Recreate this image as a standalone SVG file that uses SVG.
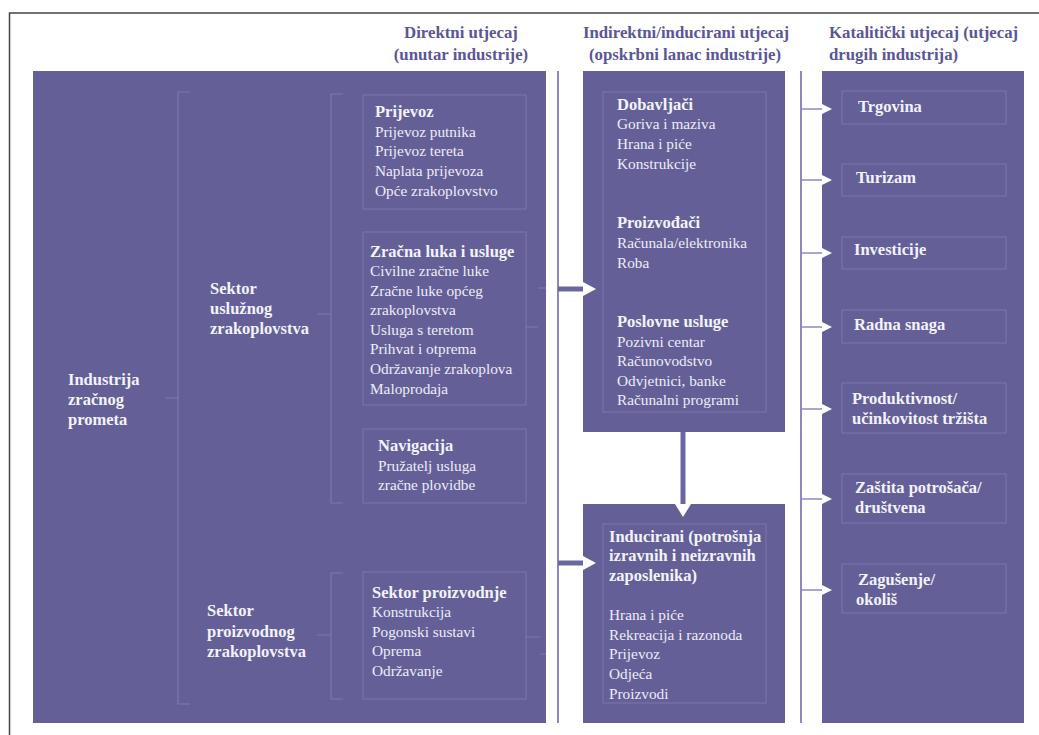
<svg xmlns="http://www.w3.org/2000/svg" width="1039" height="735" viewBox="0 0 1039 735">
<defs>
<style>
.panel{fill:#646097;}
.ibox{fill:none;stroke:#7b77ab;stroke-width:1;}
.br{fill:none;stroke:#7c78ad;stroke-width:1.2;}
.vl{fill:none;stroke:#8c88c2;stroke-width:2;}
.thick{fill:none;stroke:#6a66a2;stroke-width:5;}
.thin{fill:none;stroke:#8c88c2;stroke-width:1.5;}
.head{fill:#ffffff;}
text{font-family:'Liberation Serif','DejaVu Serif',serif;}
.t{font-size:15.3px;fill:#eeecf7;}
.b{font-size:16.5px;font-weight:bold;fill:#f3f2fa;}
.h{font-size:16.8px;font-weight:bold;fill:#5b5694;}
</style>
</defs>
<rect x="0" y="0" width="1039" height="735" fill="#ffffff"/>
<path d="M9.5,735 V13 H1039" fill="none" stroke="#444" stroke-width="1.5"/>

<g id="headers">
<text class="h" x="461" y="38" text-anchor="middle">Direktni utjecaj</text>
<text class="h" x="461" y="60" text-anchor="middle">(unutar industrije)</text>
<text class="h" x="686" y="38" text-anchor="middle">Indirektni/inducirani utjecaj</text>
<text class="h" x="685" y="60" text-anchor="middle">(opskrbni lanac industrije)</text>
<text class="h" x="829" y="38">Katalitički utjecaj (utjecaj</text>
<text class="h" x="829" y="60">drugih industrija)</text>
</g>

<g id="panels">
<rect class="panel" x="33" y="71" width="513" height="652"/>
<rect class="panel" x="583" y="71" width="202" height="361"/>
<rect class="panel" x="583" y="504" width="202" height="219"/>
<rect class="panel" x="822" y="71" width="202" height="652"/>
</g>

<g id="connectors">
<line class="vl" x1="558" y1="71" x2="558" y2="723"/>
<line class="vl" x1="801" y1="71" x2="801" y2="723"/>
<path class="br" d="M190,92 H178 V704 H190 M165,398 H178"/>
<path class="br" d="M343,94 H331 V503 H343 M317,314 H331"/>
<path class="br" d="M343,573 H331 V699 H343 M317,635 H331"/>
<path class="br" d="M538,288 H546 M525,327 H538 M526,637 H540 M540,654 H546"/>
<line class="thick" x1="558" y1="289" x2="584" y2="289"/>
<polygon class="head" points="583,282 596,289 583,296"/>
<line class="thick" x1="558" y1="563" x2="584" y2="563"/>
<polygon class="head" points="583,556 596,563 583,570"/>
<line class="thick" x1="683" y1="432" x2="683" y2="506" stroke="#7e7ab6"/>
<polygon class="head" points="675,504 691,504 683,517"/>
<line class="thin" x1="801" y1="109" x2="823" y2="109"/>
<polygon class="head" points="822,104 832,109 822,114"/>
<line class="thin" x1="801" y1="180" x2="823" y2="180"/>
<polygon class="head" points="822,175 832,180 822,185"/>
<line class="thin" x1="801" y1="253" x2="823" y2="253"/>
<polygon class="head" points="822,248 832,253 822,258"/>
<line class="thin" x1="801" y1="327" x2="823" y2="327"/>
<polygon class="head" points="822,322 832,327 822,332"/>
<line class="thin" x1="801" y1="409" x2="823" y2="409"/>
<polygon class="head" points="822,404 832,409 822,414"/>
<line class="thin" x1="801" y1="499" x2="823" y2="499"/>
<polygon class="head" points="822,494 832,499 822,504"/>
<line class="thin" x1="801" y1="590" x2="823" y2="590"/>
<polygon class="head" points="822,585 832,590 822,595"/>
</g>

<g id="industrija">
<text class="b" x="68" y="385">Industrija</text>
<text class="b" x="68" y="405">zračnog</text>
<text class="b" x="68" y="425">prometa</text>
</g>
<g id="sektor-usluznog">
<text class="b" x="210" y="294">Sektor</text>
<text class="b" x="210" y="314">uslužnog</text>
<text class="b" x="210" y="334">zrakoplovstva</text>
</g>
<g id="sektor-proizvodnog">
<text class="b" x="207" y="616">Sektor</text>
<text class="b" x="207" y="637">proizvodnog</text>
<text class="b" x="207" y="657">zrakoplovstva</text>
</g>

<g id="prijevoz">
<rect class="ibox" x="363" y="95" width="163" height="114"/>
<text class="b" x="375" y="117">Prijevoz</text>
<text class="t" x="375" y="137">Prijevoz putnika</text>
<text class="t" x="375" y="156">Prijevoz tereta</text>
<text class="t" x="375" y="176">Naplata prijevoza</text>
<text class="t" x="375" y="196">Opće zrakoplovstvo</text>
</g>
<g id="zracna-luka">
<rect class="ibox" x="363" y="232" width="163" height="173"/>
<text class="b" x="370" y="257">Zračna luka i usluge</text>
<text class="t" x="370" y="276">Civilne zračne luke</text>
<text class="t" x="370" y="296">Zračne luke općeg</text>
<text class="t" x="370" y="315">zrakoplovstva</text>
<text class="t" x="370" y="335">Usluga s teretom</text>
<text class="t" x="370" y="354">Prihvat i otprema</text>
<text class="t" x="370" y="374">Održavanje zrakoplova</text>
<text class="t" x="370" y="394">Maloprodaja</text>
</g>
<g id="navigacija">
<rect class="ibox" x="363" y="429" width="163" height="74"/>
<text class="b" x="378" y="451">Navigacija</text>
<text class="t" x="378" y="471">Pružatelj usluga</text>
<text class="t" x="378" y="490">zračne plovidbe</text>
</g>
<g id="sektor-proizvodnje">
<rect class="ibox" x="363" y="572" width="163" height="127"/>
<text class="b" x="372" y="598">Sektor proizvodnje</text>
<text class="t" x="372" y="617">Konstrukcija</text>
<text class="t" x="372" y="637">Pogonski sustavi</text>
<text class="t" x="372" y="656">Oprema</text>
<text class="t" x="372" y="676">Održavanje</text>
</g>

<g id="dobavljaci">
<rect class="ibox" x="603" y="92" width="163" height="320"/>
<text class="b" x="617" y="110">Dobavljači</text>
<text class="t" x="617" y="129">Goriva i maziva</text>
<text class="t" x="617" y="149">Hrana i piće</text>
<text class="t" x="617" y="169">Konstrukcije</text>
<text class="b" x="617" y="228">Proizvođači</text>
<text class="t" x="617" y="248">Računala/elektronika</text>
<text class="t" x="617" y="268">Roba</text>
<text class="b" x="617" y="327">Poslovne usluge</text>
<text class="t" x="617" y="347">Pozivni centar</text>
<text class="t" x="617" y="366">Računovodstvo</text>
<text class="t" x="617" y="386">Odvjetnici, banke</text>
<text class="t" x="617" y="405">Računalni programi</text>
</g>
<g id="inducirani">
<rect class="ibox" x="603" y="524" width="163" height="179"/>
<text class="b" x="609" y="542">Inducirani (potrošnja</text>
<text class="b" x="609" y="561">izravnih i neizravnih</text>
<text class="b" x="609" y="581">zaposlenika)</text>
<text class="t" x="609" y="620">Hrana i piće</text>
<text class="t" x="609" y="640">Rekreacija i razonoda</text>
<text class="t" x="609" y="659">Prijevoz</text>
<text class="t" x="609" y="679">Odjeća</text>
<text class="t" x="609" y="699">Proizvodi</text>
</g>

<g id="trgovina">
<rect class="ibox" x="842" y="91" width="164" height="33"/>
<text class="b" x="858" y="112">Trgovina</text>
</g>
<g id="turizam">
<rect class="ibox" x="842" y="164" width="164" height="32"/>
<text class="b" x="856" y="183">Turizam</text>
</g>
<g id="investicije">
<rect class="ibox" x="842" y="237" width="164" height="32"/>
<text class="b" x="854" y="255">Investicije</text>
</g>
<g id="radna-snaga">
<rect class="ibox" x="842" y="310" width="164" height="33"/>
<text class="b" x="854" y="330">Radna snaga</text>
</g>
<g id="produktivnost">
<rect class="ibox" x="842" y="383" width="164" height="50"/>
<text class="b" x="852" y="404">Produktivnost/</text>
<text class="b" x="852" y="424">učinkovitost tržišta</text>
</g>
<g id="zastita">
<rect class="ibox" x="842" y="474" width="164" height="49"/>
<text class="b" x="855" y="493">Zaštita potrošača/</text>
<text class="b" x="855" y="513">društvena</text>
</g>
<g id="zagusenje">
<rect class="ibox" x="842" y="564" width="164" height="49"/>
<text class="b" x="858" y="585">Zagušenje/</text>
<text class="b" x="856" y="605">okoliš</text>
</g>
</svg>
